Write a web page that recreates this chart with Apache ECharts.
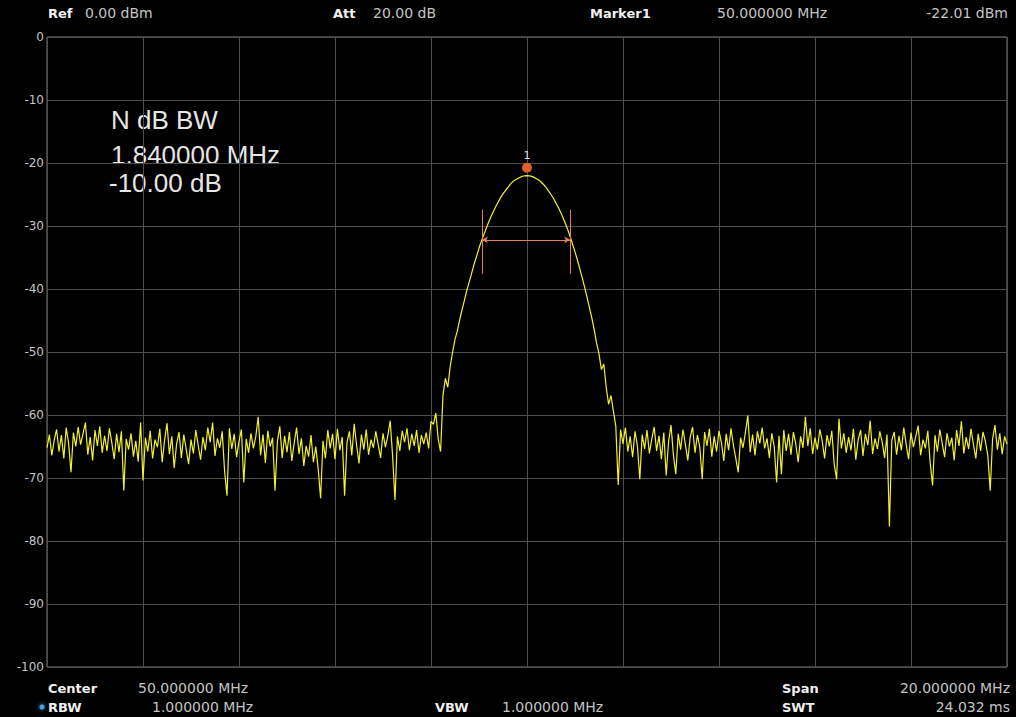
<!DOCTYPE html>
<html>
<head>
<meta charset="utf-8">
<script src="https://cdn.jsdelivr.net/npm/echarts@6/dist/echarts.min.js"></script>
<style>
html,body{margin:0;padding:0;background:#000;}
#chart{width:1016px;height:717px;}
</style>
</head>
<body>
<div id="chart"></div>
<script>
// ---- Sweep settings (MHz) ----
const freqStep = 0.05;
const xTicks = [40, 42, 44, 46, 48, 50, 52, 54, 56, 58, 60];
const yTicks = [0, -10, -20, -30, -40, -50, -60, -70, -80, -90, -100];

// ---- Trace levels (dBm) ----
const noiseLeftStart = 40.00;
const noiseLeft = [
-65.2,-63.1,-66.4,-64.0,-62.3,-65.8,-63.2,-66.9,-62.0,-64.5,
-69.1,-62.8,-65.0,-61.9,-64.7,-63.0,-61.2,-66.3,-63.5,-67.2,
-62.4,-64.9,-61.8,-66.0,-63.3,-65.7,-62.1,-64.4,-67.0,-63.0,
-65.9,-62.6,-72.0,-63.8,-65.5,-62.9,-66.6,-64.1,-67.4,-61.2,
-70.4,-63.6,-65.8,-62.5,-66.9,-63.9,-65.1,-62.2,-67.5,-64.0,
-61.3,-66.2,-63.4,-68.4,-64.6,-62.7,-66.8,-63.1,-65.4,-67.8,
-63.9,-66.1,-62.4,-64.8,-67.1,-63.5,-65.6,-62.0,-64.3,-61.2,
-66.5,-63.7,-65.2,-62.6,-68.9,-72.8,-62.1,-65.4,-63.0,-66.7,
-64.2,-62.3,-70.7,-63.8,-66.0,-62.9,-65.3,-63.4,-60.3,-66.4,
-63.1,-67.6,-62.5,-65.0,-63.6,-72.0,-64.2,-61.8,-66.8,-63.3,
-65.9,-62.7,-67.3,-64.4,-62.0,-66.2,-63.7,-68.1,-64.9,-66.6,
-63.2,-67.5,-65.0,-68.6,-73.2,-64.1,-66.9,-62.4,-65.3,-63.0,
-67.0,-62.2,-65.6,-63.5,-72.8,-64.3,-62.6,-66.4,-61.4,-64.8,
-67.7,-63.1,-65.5,-62.3,-66.3,-63.9,-65.2,-62.6,-64.7,-66.8,
-62.9,-65.1,-63.3,-60.9,-66.5,-73.5,-63.4,-65.7,-62.5,-64.3,
-62.1,-65.6,-63.0,-64.9,-62.4,-66.0,-63.2,-64.6,-62.8,-65.3,
-61.0
];
const signalStart = 48.05;
const signalPeak = [
-61.5,-59.7,-63.8,-65.8,-56.8,-54.2,-55.6,-52.3,-50.0,-48.0,
-46.6,-44.8,-43.2,-41.7,-40.1,-38.8,-37.4,-36.0,-34.8,-33.5,
-32.4,-31.4,-30.4,-29.4,-28.5,-27.7,-26.9,-26.2,-25.5,-24.9,
-24.4,-23.9,-23.4,-23.0,-22.7,-22.5,-22.3,-22.1,-22.04,-22.01,
-22.05,-22.13,-22.28,-22.5,-22.75,-23.05,-23.45,-23.9,-24.45,-25.0,
-25.6,-26.3,-27.0,-27.8,-28.7,-29.6,-30.6,-31.7,-32.9,-34.1,
-35.4,-36.8,-38.2,-39.7,-41.3,-42.9,-44.6,-46.5,-48.6,-50.3,
-52.8,-51.9,-55.6,-58.3,-56.9
];
const noiseRightStart = 51.80;
const noiseRight = [
-59.4,-61.8,-71.1,-62.3,-64.6,-62.0,-65.8,-63.4,-66.7,-62.6,
-64.9,-70.2,-63.1,-65.4,-62.4,-66.1,-63.8,-61.9,-65.7,-63.3,
-67.0,-62.8,-69.6,-64.2,-61.6,-66.3,-69.4,-63.0,-65.5,-62.3,
-64.7,-67.2,-63.5,-61.9,-66.0,-63.2,-65.1,-70.2,-62.7,-64.9,
-62.2,-66.6,-63.4,-65.8,-62.5,-64.4,-67.3,-63.0,-65.6,-62.1,
-64.8,-66.9,-69.1,-63.6,-65.2,-62.8,-60.1,-65.9,-63.1,-66.4,
-62.6,-64.5,-62.0,-65.3,-63.7,-66.8,-62.9,-65.0,-70.7,-63.3,
-69.4,-62.4,-65.7,-63.0,-66.3,-62.7,-64.6,-67.5,-63.4,-65.2,
-60.3,-64.9,-62.1,-66.2,-63.6,-65.5,-62.3,-64.1,-66.9,-63.2,
-65.0,-62.5,-67.8,-70.2,-60.6,-65.3,-62.9,-66.0,-63.5,-65.6,
-62.2,-67.1,-63.9,-62.4,-66.5,-63.0,-64.8,-60.9,-66.2,-63.7,
-65.4,-62.6,-64.3,-66.8,-63.1,-77.7,-64.0,-62.7,-66.3,-63.3,
-65.6,-62.0,-64.7,-67.0,-62.8,-65.1,-63.4,-61.7,-66.4,-63.9,
-65.3,-62.5,-67.6,-71.2,-63.2,-65.8,-62.3,-64.5,-66.7,-62.9,
-65.0,-63.6,-67.2,-62.4,-64.9,-61.0,-66.1,-63.5,-65.4,-62.2,
-64.6,-66.9,-63.0,-65.7,-62.7,-64.2,-66.4,-72.0,-63.8,-61.6,
-65.5,-62.9,-66.2,-63.4,-64.6
];

// ---- Marker / N dB annotation (MHz, dBm) ----
const markerFreq = [50.0];
const markerLevel = [-22.01];
const ndbEdges = [49.06, 50.90];
const ndbLevel = [-32.2];
const ndbBarSpan = [-27.4, -37.6];

function seg(start, arr) {
  return arr.map((v, i) => [+(start + i * freqStep).toFixed(2), v]);
}
const traceData = seg(noiseLeftStart, noiseLeft)
  .concat(seg(signalStart, signalPeak))
  .concat(seg(noiseRightStart, noiseRight));

const chart = echarts.init(document.getElementById('chart'), null, {renderer: 'svg'});

const gray = '#c4c4c4';
const white = '#f0f0f0';
function txt(x, y, text, o) {
  o = o || {};
  return {
    type: 'text', silent: true,
    style: {
      x: x, y: y, text: text,
      fill: o.fill || gray,
      font: (o.bold ? 'bold ' : '') + (o.size || 14) + 'px ' + (o.family || '"DejaVu Sans"'),
      align: o.align || 'left', verticalAlign: 'middle'
    }
  };
}

const orange = '#e0602a';
const salmon = '#e8805a';

chart.setOption({
  backgroundColor: '#000',
  animation: false,
  grid: {left: 47, right: 9, top: 37, bottom: 50, show: true, borderColor: '#7a7a7a', borderWidth: 1, backgroundColor: '#000'},
  xAxis: {
    type: 'value', min: xTicks[0], max: xTicks[xTicks.length - 1], interval: 2,
    axisLine: {show: false}, axisTick: {show: false}, axisLabel: {show: false},
    splitLine: {show: true, lineStyle: {color: '#4e4e4e', width: 1}}
  },
  yAxis: {
    type: 'value', min: yTicks[yTicks.length - 1], max: yTicks[0], interval: 10,
    axisLine: {show: false}, axisTick: {show: false},
    axisLabel: {color: gray, fontSize: 12, fontFamily: '"DejaVu Sans"', margin: 3},
    splitLine: {show: true, lineStyle: {color: '#4e4e4e', width: 1}}
  },
  series: [{
    type: 'line',
    data: traceData,
    showSymbol: false,
    symbol: 'none',
    lineStyle: {color: '#f2f22c', width: 1.2},
    z: 3,
    markLine: {
      silent: true,
      symbol: ['none', 'none'],
      label: {show: false},
      lineStyle: {color: salmon, width: 1, type: 'solid'},
      data: [
        [{coord: [ndbEdges[0], ndbBarSpan[0]]}, {coord: [ndbEdges[0], ndbBarSpan[1]]}],
        [{coord: [ndbEdges[1], ndbBarSpan[0]]}, {coord: [ndbEdges[1], ndbBarSpan[1]]}],
        [{coord: [ndbEdges[0], ndbLevel[0]], symbol: 'arrow', symbolSize: [5, 6]},
         {coord: [ndbEdges[1], ndbLevel[0]], symbol: 'arrow', symbolSize: [5, 6]}]
      ]
    },
    markPoint: {
      silent: true,
      symbol: 'circle',
      symbolSize: 10,
      symbolOffset: [0, -8],
      itemStyle: {color: orange},
      label: {show: true, position: 'top', distance: 2, formatter: '1', color: '#e0e0e0', fontSize: 11, fontFamily: '"DejaVu Sans"'},
      data: [{coord: [markerFreq[0], markerLevel[0]]}]
    }
  }],
  graphic: [
    txt(48, 13, 'Ref', {bold: true, size: 13, fill: white}),
    txt(85, 13, '0.00 dBm'),
    txt(333, 13, 'Att', {bold: true, size: 13, fill: white}),
    txt(373, 13, '20.00 dB'),
    txt(590, 13, 'Marker1', {bold: true, size: 13, fill: white}),
    txt(717, 13, '50.000000 MHz'),
    txt(1008, 13, '-22.01 dBm', {align: 'right'}),
    txt(48, 688, 'Center', {bold: true, size: 13, fill: white}),
    txt(138, 688, '50.000000 MHz'),
    txt(48, 707, 'RBW', {bold: true, size: 13, fill: white}),
    {type: 'circle', silent: true, shape: {cx: 42, cy: 707, r: 2.5}, style: {fill: '#4a9ee0', shadowBlur: 4, shadowColor: '#4a9ee0'}},
    txt(152, 707, '1.000000 MHz'),
    txt(435, 707, 'VBW', {bold: true, size: 13, fill: white}),
    txt(502, 707, '1.000000 MHz'),
    txt(782, 688, 'Span', {bold: true, size: 13, fill: white}),
    txt(1010, 688, '20.000000 MHz', {align: 'right'}),
    txt(782, 707, 'SWT', {bold: true, size: 13, fill: white}),
    txt(1010, 707, '24.032 ms', {align: 'right'}),
    txt(111, 120, 'N dB BW', {size: 26, family: '"Liberation Sans"', fill: '#e6e6e6'}),
    txt(111, 155, '1.840000 MHz', {size: 26, family: '"Liberation Sans"', fill: '#e6e6e6'}),
    txt(109, 183, '-10.00 dB', {size: 26, family: '"Liberation Sans"', fill: '#e6e6e6'})
  ]
});
</script>
</body>
</html>
